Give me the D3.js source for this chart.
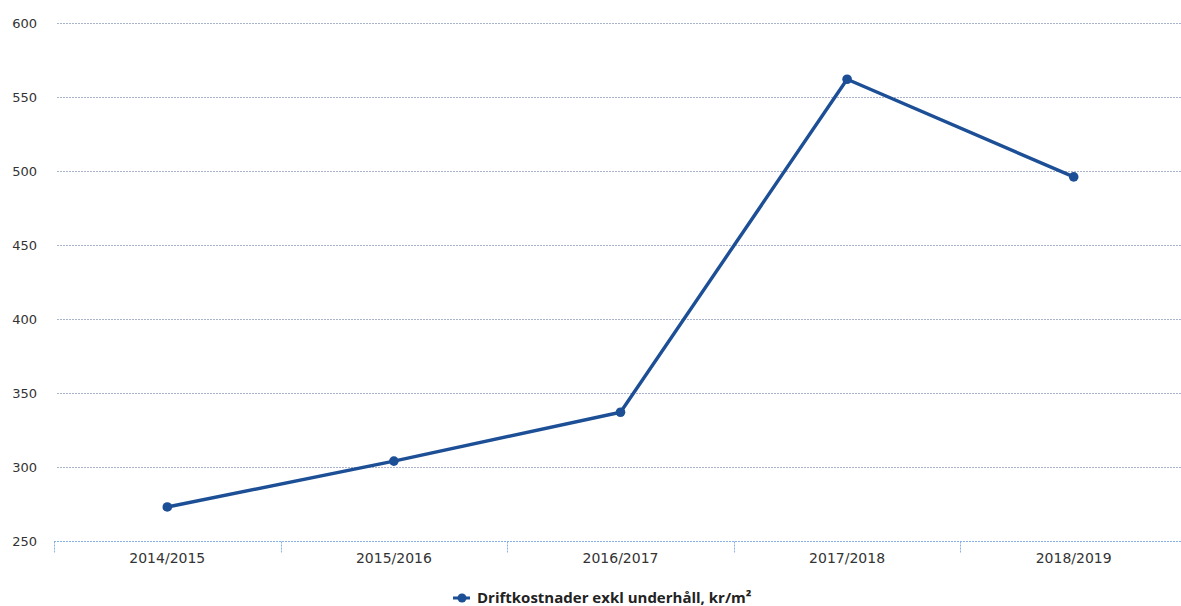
<!DOCTYPE html>
<html>
<head>
<meta charset="utf-8">
<script src="https://cdn.jsdelivr.net/npm/d3@7"></script>
<style>
  body { margin: 0; background: #fff; }
  svg { display: block; }
  .grid line { stroke: #aab3cc; stroke-width: 1; stroke-dasharray: 2,1; }
  .ylab { font-family: "DejaVu Sans", sans-serif; font-size: 13px; fill: #333; }
  .xlab { font-family: "DejaVu Sans", sans-serif; font-size: 14px; fill: #333; }
  .legend-text { font-family: "Open Sans", sans-serif; font-weight: 700; font-size: 15px; fill: #222; }
</style>
</head>
<body>
<svg id="chart"></svg>
<script>
// ── Data ──
const seasons = ["2014/2015", "2015/2016", "2016/2017", "2017/2018", "2018/2019"];
const costs = [273, 304, 337, 562, 496];
const yTicks = [250, 300, 350, 400, 450, 500, 550, 600];
const seriesName = "Driftkostnader exkl underhåll, kr/m²";

const W = 1181, H = 606;
const lineColor = "#1c4f95";

const svg = d3.select("#chart").attr("width", W).attr("height", H);

const x = d3.scaleBand().domain(seasons).range([54, 1187]).padding(0);
const y = d3.scaleLinear().domain([250, 600]).range([541, 23]);

// ── Grid ──
svg.append("g").attr("class", "grid")
  .selectAll("line")
  .data(yTicks.filter(d => d > 250))
  .join("line")
  .attr("x1", 57).attr("x2", 1181)
  .attr("y1", d => Math.round(y(d)) + 0.5)
  .attr("y2", d => Math.round(y(d)) + 0.5);

// y labels
svg.append("g").selectAll("text")
  .data(yTicks)
  .join("text")
  .attr("class", "ylab")
  .attr("x", 37)
  .attr("y", d => y(d) + 4.5)
  .attr("text-anchor", "end")
  .text(d => d);

// ── X axis ──
const xAxis = svg.append("g").attr("transform", `translate(0,${Math.round(y(250)) + 0.5})`);
xAxis.append("line")
  .attr("x1", 54).attr("x2", 1181)
  .attr("stroke", "#86b1e6").attr("stroke-dasharray", "2,1");
const tickXs = seasons.map(s => x(s)).concat([x.range()[1]]);
xAxis.selectAll(".tick")
  .data(tickXs)
  .join("line")
  .attr("x1", d => Math.round(d) + 0.5).attr("x2", d => Math.round(d) + 0.5)
  .attr("y1", 0).attr("y2", 11)
  .attr("stroke", "#86b1e6").attr("stroke-dasharray", "2,1");
xAxis.selectAll(".xlab")
  .data(seasons)
  .join("text")
  .attr("class", "xlab")
  .attr("x", d => x(d) + x.bandwidth() / 2)
  .attr("y", 21)
  .attr("text-anchor", "middle")
  .text(d => d);

// ── Line ──
const cx = (d, i) => x(seasons[i]) + x.bandwidth() / 2;
const line = d3.line().x(cx).y(d => y(d));

svg.append("path")
  .datum(costs)
  .attr("fill", "none")
  .attr("stroke", lineColor)
  .attr("stroke-width", 3.4)
  .attr("stroke-linejoin", "round")
  .attr("d", line);

svg.append("g").selectAll("circle")
  .data(costs)
  .join("circle")
  .attr("cx", cx)
  .attr("cy", d => y(d))
  .attr("r", 4.8)
  .attr("fill", lineColor);

// ── Legend ──
const leg = svg.append("g").attr("transform", "translate(453,598)");
leg.append("line")
  .attr("x1", 0).attr("x2", 17).attr("y1", 0).attr("y2", 0)
  .attr("stroke", lineColor).attr("stroke-width", 3);
leg.append("circle").attr("cx", 9).attr("cy", 0).attr("r", 4.5).attr("fill", lineColor);
leg.append("text")
  .attr("class", "legend-text")
  .attr("x", 24)
  .attr("y", 5)
  .text(seriesName);
</script>
</body>
</html>
